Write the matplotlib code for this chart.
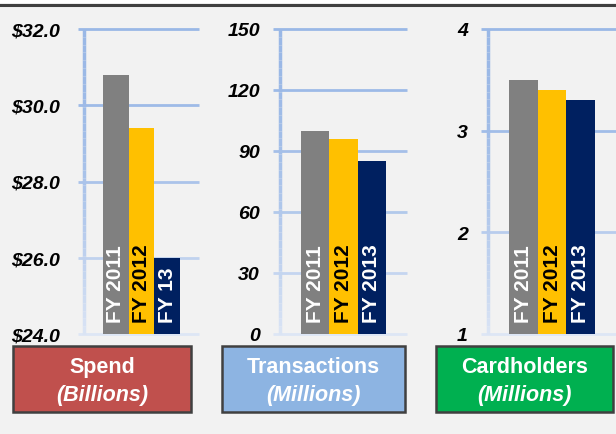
import numpy as np
import matplotlib
matplotlib.use("Agg")
import matplotlib.pyplot as plt
import matplotlib.transforms as mtransforms
from matplotlib.patches import Rectangle
from matplotlib.lines import Line2D
from matplotlib.collections import LineCollection
from matplotlib.colors import to_rgb

# data
spend = [30.8, 29.4, 26.0]
spend_labels = ["FY 2011", "FY 2012", "FY 13"]
transactions = [100, 96, 85]
trans_labels = ["FY 2011", "FY 2012", "FY 2013"]
cardholders = [3.5, 3.4, 3.3]
card_labels = ["FY 2011", "FY 2012", "FY 2013"]

spend_ticks = [24, 26, 28, 30, 32]
spend_ticklabels = ["$24.0", "$26.0", "$28.0", "$30.0", "$32.0"]
trans_ticks = [0, 30, 60, 90, 120, 150]
card_ticks = [1, 2, 3, 4]

titles = [("Spend", "(Billions)"), ("Transactions", "(Millions)"), ("Cardholders", "(Millions)")]
box_colors = ["#c0504d", "#8db4e2", "#00b050"]

bar_colors = ["#808080", "#ffc000", "#002060"]
label_colors = ["white", "black", "white"]

plt.rcParams["font.family"] = ["Liberation Sans", "DejaVu Sans"]

W, H = 616, 435
fig = plt.figure(figsize=(W / 100, H / 100), dpi=100)
fig.patch.set_facecolor("#f2f2f2")

grid_top = np.array(to_rgb("#9ab8e6"))
grid_bot = np.array(to_rgb("#dde6f5"))


def px(x0, y0, w, h):
    return [x0 / W, 1 - (y0 + h) / H, w / W, h / H]


def fade(t):
    return tuple(grid_top + (grid_bot - grid_top) * t ** 2)


def panel(rect, vals, labels, ticks, ticklabels, pad):
    ax = fig.add_axes(rect)
    ax.set_facecolor("none")
    lo, hi = ticks[0], ticks[-1]
    x = np.arange(len(vals))
    ax.bar(x, np.array(vals) - lo, bottom=lo, width=1.0, color=bar_colors, zorder=3)
    ax.set_xlim(-1.24, len(vals) - 1 + 1.24)
    ax.set_ylim(lo, hi)
    for s in ax.spines.values():
        s.set_visible(False)
    ax.set_xticks([])
    ax.set_yticks([])
    # tick labels, bold italic
    off = mtransforms.ScaledTranslation(-pad / 100, 0, fig.dpi_scale_trans)
    for t, tl in zip(ticks, ticklabels):
        ax.text(0, t, tl, transform=ax.get_yaxis_transform() + off,
                ha="right", va="center_baseline", fontsize=14, fontweight="bold",
                fontstyle="italic", color="black", clip_on=False)
    for t in ticks:
        f = (hi - t) / (hi - lo)
        ax.plot([-0.055, 1], [(t - lo) / (hi - lo)] * 2, transform=ax.transAxes,
                color=fade(f), lw=2, clip_on=False, zorder=1, solid_capstyle="butt")
    # fading vertical axis line
    ys = np.linspace(1, 0, 40)
    segs = [[(0, ys[i]), (0, ys[i + 1])] for i in range(len(ys) - 1)]
    lc = LineCollection(segs, colors=[fade(1 - y) for y in ys[:-1]], linewidths=2.5,
                        transform=ax.transAxes, clip_on=False, zorder=1)
    ax.add_collection(lc)
    up = mtransforms.ScaledTranslation(0, 12 / 100, fig.dpi_scale_trans)
    for xi, lab, c in zip(x, labels, label_colors):
        ax.text(xi, lo, lab, rotation=90, ha="center", va="bottom", color=c,
                fontsize=15, fontweight="bold", zorder=4,
                transform=ax.transData + up)
    return ax


panel(px(84, 30, 115, 305), spend, spend_labels, spend_ticks, spend_ticklabels, 24)
panel(px(280, 30, 127, 305), transactions, trans_labels, trans_ticks,
      [str(t) for t in trans_ticks], 20)
panel(px(488, 30, 128, 305), cardholders, card_labels, card_ticks,
      [str(t) for t in card_ticks], 20)

# title boxes
boxes = [(13, 347, 178, 66), (222, 347, 183, 66), (436, 347, 177, 66)]
for (bx, by, bw, bh), (t1, t2), fc in zip(boxes, titles, box_colors):
    r = px(bx, by, bw, bh)
    fig.add_artist(Rectangle((r[0], r[1]), r[2], r[3], transform=fig.transFigure,
                             facecolor=fc, edgecolor="#404040", lw=1.8))
    cx = (bx + bw / 2) / W
    fig.text(cx, 1 - 368 / H, t1, ha="center", va="center", color="white",
             fontsize=15.5, fontweight="bold")
    fig.text(cx, 1 - 396 / H, t2, ha="center", va="center", color="white",
             fontsize=15.5, fontweight="bold", style="italic")

# top border
fig.add_artist(Line2D([0, 1], [1 - 5.5 / H] * 2, transform=fig.transFigure,
                      color="#404040", lw=2.2))
fig.add_artist(Rectangle((0, 1 - 4 / H), 1, 4 / H, transform=fig.transFigure,
                         facecolor="white", edgecolor="none"))

fig.savefig("out.png", dpi=100, facecolor=fig.get_facecolor())
